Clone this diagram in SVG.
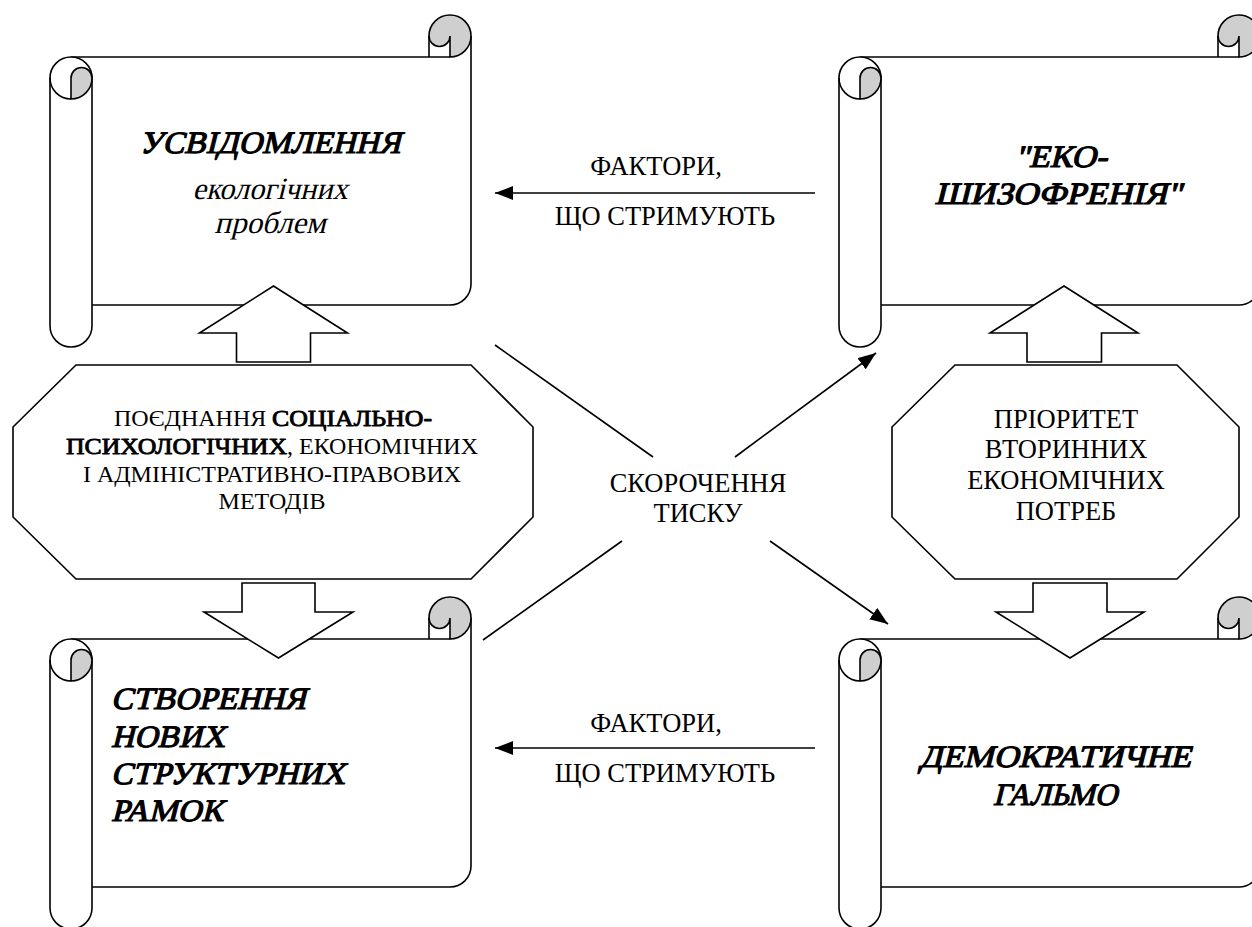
<svg xmlns="http://www.w3.org/2000/svg" xmlns:xlink="http://www.w3.org/1999/xlink" width="1252" height="927" viewBox="0 0 1252 927">
  <style>
    .ln { fill: none; stroke: #000; stroke-width: 1.6; stroke-linejoin: round; }
    .wf { fill: #fff; stroke: #000; stroke-width: 1.6; stroke-linejoin: miter; }
    .gr { fill: #cfcfcf; stroke: #000; stroke-width: 1.6; }
    .t { font-family: "Liberation Serif", "Times New Roman", serif; fill: #000; }
    /* heavy slanted titles: serif face thickened with a thin outline, slanted by the group transform */
    .big { font-size: 31px; stroke: #000; stroke-width: 1.2; stroke-linejoin: round; }
    .bd { stroke: #000; stroke-width: 0.9; stroke-linejoin: round; }
    .it { font-size: 31px; }
    .n24 { font-size: 24px; }
    .n26 { font-size: 26.5px; }
    .c { text-anchor: middle; }
  </style>
  <defs>
    <!-- horizontal scroll, 421 x 332, roll diameter 42 -->
    <g id="scroll">
      <path d="M21,42 H400 A21,21 0 0 0 421,21 V269 A21,21 0 0 1 400,290 H42 V63 H21 Z" fill="#fff" stroke="none"/>
      <path class="ln" d="M21,42 H400"/>
      <path class="ln" d="M421,21 V269 A21,21 0 0 1 400,290 H42"/>
      <path class="wf" d="M0,63 A21,21 0 0 1 42,63 V311 A21,21 0 0 1 0,311 Z"/>
      <path class="gr" d="M21,63 A10.5,10.5 0 0 1 42,63 A21,21 0 0 1 21,84 Z"/>
      <path class="ln" d="M0,63 A21,21 0 0 0 21,84"/>
      <path class="gr" d="M379,21 A21,21 0 1 1 400,42 V21 A10.5,10.5 0 0 1 379,21 Z"/>
      <path class="ln" d="M379,21 V42"/>
    </g>
    <marker id="ah" viewBox="0 0 18 14" refX="18" refY="7" markerWidth="18" markerHeight="14" markerUnits="userSpaceOnUse" orient="auto">
      <path d="M0,0 L18,7 L0,14 Z" fill="#000"/>
    </marker>
  </defs>

  <!-- scrolls -->
  <g id="awareness">
    <use xlink:href="#scroll" href="#scroll" x="50" y="15"/>
    <g transform="translate(270,153) skewX(-14)"><text class="t big c" textLength="261" lengthAdjust="spacingAndGlyphs">УСВІДОМЛЕННЯ</text></g>
    <g transform="translate(270,199) skewX(-14)"><text class="t it c" textLength="155" lengthAdjust="spacingAndGlyphs">екологічних</text></g>
    <g transform="translate(270,233) skewX(-14)"><text class="t it c">проблем</text></g>
  </g>
  <g id="eco-schizophrenia">
    <use xlink:href="#scroll" href="#scroll" x="839" y="15"/>
    <g transform="translate(1061,167) skewX(-14)"><text class="t big c" textLength="92" lengthAdjust="spacingAndGlyphs">"ЕКО-</text></g>
    <g transform="translate(1058,204) skewX(-14)"><text class="t big c" textLength="247" lengthAdjust="spacingAndGlyphs">ШИЗОФРЕНІЯ"</text></g>
  </g>
  <g id="new-frameworks">
    <use xlink:href="#scroll" href="#scroll" x="50" y="597"/>
    <g transform="translate(111,709) skewX(-14)"><text class="t big" textLength="195" lengthAdjust="spacingAndGlyphs">СТВОРЕННЯ</text></g>
    <g transform="translate(111,747) skewX(-14)"><text class="t big" textLength="114" lengthAdjust="spacingAndGlyphs">НОВИХ</text></g>
    <g transform="translate(111,784) skewX(-14)"><text class="t big" textLength="234" lengthAdjust="spacingAndGlyphs">СТРУКТУРНИХ</text></g>
    <g transform="translate(111,821) skewX(-14)"><text class="t big" textLength="112" lengthAdjust="spacingAndGlyphs">РАМОК</text></g>
  </g>
  <g id="democratic-brake">
    <use xlink:href="#scroll" href="#scroll" x="839" y="597"/>
    <g transform="translate(1055,767) skewX(-14)"><text class="t big c" textLength="272" lengthAdjust="spacingAndGlyphs">ДЕМОКРАТИЧНЕ</text></g>
    <g transform="translate(1055,805) skewX(-14)"><text class="t big c" textLength="124" lengthAdjust="spacingAndGlyphs">ГАЛЬМО</text></g>
  </g>

  <!-- block arrows -->
  <g id="block-arrows">
    <polygon class="wf" points="273.5,286 347.5,333 310.5,333 310.5,362 236.5,362 236.5,333 199.5,333"/>
    <polygon class="wf" points="242,583 315,583 315,612 353,612 278.5,658 204,612 242,612"/>
    <polygon class="wf" points="1064,286 1138,333 1101.5,333 1101.5,362 1027,362 1027,333 990,333"/>
    <polygon class="wf" points="1033,583 1107,583 1107,612 1144,612 1070,658 996,612 1033,612"/>
  </g>

  <!-- octagons -->
  <g id="methods">
    <polygon class="wf" points="76,365 471,365 533,427 533,517 471,579 76,579 13,517 13,427"/>
    <text class="t n24" x="114" y="426">ПОЄДНАННЯ</text>
    <text class="t n24 bd" x="272" y="426" textLength="160" lengthAdjust="spacingAndGlyphs">СОЦІАЛЬНО-</text>
    <text class="t n24 bd" x="66" y="454" textLength="221" lengthAdjust="spacingAndGlyphs">ПСИХОЛОГІЧНИХ</text>
    <text class="t n24" x="287" y="454">, ЕКОНОМІЧНИХ</text>
    <text class="t n24 c" x="272" y="482">І АДМІНІСТРАТИВНО-ПРАВОВИХ</text>
    <text class="t n24 c" x="272" y="509">МЕТОДІВ</text>
  </g>
  <g id="priority">
    <polygon class="wf" points="955,365 1177,365 1239,427 1239,517 1177,579 955,579 892,517 892,427"/>
    <text class="t n26 c" x="1066" y="428">ПРІОРИТЕТ</text>
    <text class="t n26 c" x="1066" y="458">ВТОРИННИХ</text>
    <text class="t n26 c" x="1066" y="489">ЕКОНОМІЧНИХ</text>
    <text class="t n26 c" x="1066" y="520">ПОТРЕБ</text>
  </g>

  <!-- connectors -->
  <g id="connectors">
    <line class="ln" x1="815" y1="193" x2="495" y2="193" marker-end="url(#ah)"/>
    <line class="ln" x1="815" y1="748" x2="495" y2="748" marker-end="url(#ah)"/>
    <line class="ln" x1="495" y1="345" x2="653" y2="457"/>
    <line class="ln" x1="735" y1="457" x2="876" y2="353" marker-end="url(#ah)"/>
    <line class="ln" x1="622" y1="541" x2="483" y2="640"/>
    <line class="ln" x1="770" y1="541" x2="888" y2="624" marker-end="url(#ah)"/>
  </g>

  <!-- connector labels -->
  <g id="labels">
    <text class="t n26 c" x="656" y="175">ФАКТОРИ,</text>
    <text class="t n26 c" x="665" y="225">ЩО СТРИМУЮТЬ</text>
    <text class="t n26 c" x="656" y="732">ФАКТОРИ,</text>
    <text class="t n26 c" x="665" y="782">ЩО СТРИМУЮТЬ</text>
    <text class="t n26 c" x="698" y="492">СКОРОЧЕННЯ</text>
    <text class="t n26 c" x="698" y="522">ТИСКУ</text>
  </g>
</svg>
